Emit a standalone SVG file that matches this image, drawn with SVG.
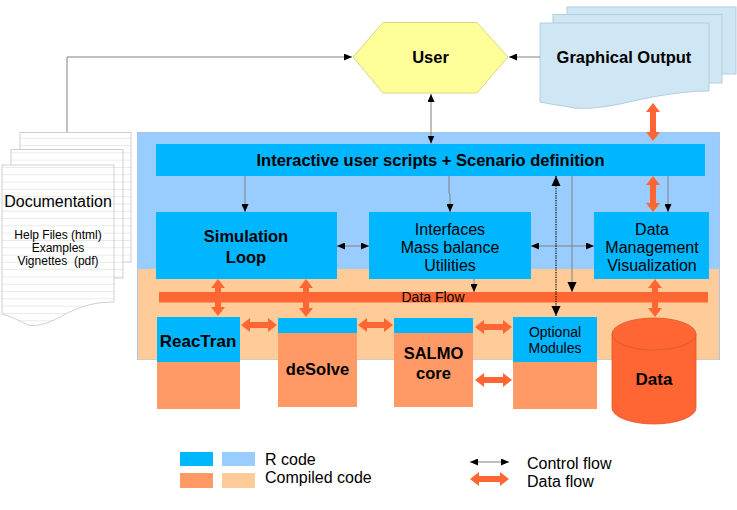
<svg xmlns="http://www.w3.org/2000/svg" width="737" height="510" viewBox="0 0 737 510">
<defs>
<pattern id="ruled" patternUnits="userSpaceOnUse" x="0" y="0" width="200" height="7.3">
<rect width="200" height="7.3" fill="#ffffff"/>
<line x1="0" y1="6.8" x2="200" y2="6.8" stroke="#e2e2e2" stroke-width="0.8"/>
</pattern>
<marker id="ah" viewBox="0 0 8 7" refX="8" refY="3.5" markerWidth="8" markerHeight="7" markerUnits="userSpaceOnUse" orient="auto-start-reverse">
<path d="M0,0 L8,3.5 L0,7 z" fill="#000"/>
</marker>
<marker id="ahb" viewBox="0 0 10 9" refX="10" refY="4.5" markerWidth="10" markerHeight="10" markerUnits="userSpaceOnUse" orient="auto-start-reverse">
<path d="M0,0 L10,4.5 L0,9 z" fill="#000"/>
</marker>
</defs>
<style>
text{font-family:"Liberation Sans",Arial,sans-serif;fill:#000}
.b{font-weight:bold;font-size:16.5px}
.r16{font-size:16px}
.r14{font-size:14px}
.r12{font-size:12px}
.rb{fill:#00b6ff}
.lb{fill:#99ccff}
.co{fill:#ff9966}
.pe{fill:#ffcc99}
.df{fill:#ff6633}
.page{fill:url(#ruled);stroke:#c4c4c4;stroke-width:0.8}
.ctl{stroke:#808080;stroke-width:1;fill:none}
</style>
<rect width="737" height="510" fill="#ffffff"/>

<!-- background regions -->
<g id="r-region">
<rect x="137.5" y="132.5" width="582" height="227" fill="#99ccff" stroke="#a9c4e4" stroke-width="1"/>
<rect x="138" y="269" width="581" height="90.5" fill="#ffcc99"/>
</g>

<!-- Documentation -->
<g id="documentation">
<rect class="page" x="20" y="132.5" width="111" height="129.5"/>
<rect class="page" x="11" y="149.5" width="112" height="128.5"/>
<path class="page" d="M2,165 H114 V302 C95,302 80,306 62,316 C48,324 35,327 28,325 C18,320 10,316 2,314 Z"/>
<text class="r16" x="58" y="206.5" text-anchor="middle">Documentation</text>
<text class="r12" x="58" y="238.5" text-anchor="middle">Help Files (html)</text>
<text class="r12" x="58" y="251.5" text-anchor="middle">Examples</text>
<text class="r12" x="58" y="264.5" text-anchor="middle" xml:space="preserve">Vignettes  (pdf)</text>
</g>

<!-- User -->
<g id="user">
<polygon points="353,57 383,22.5 477,22.5 508,57 477,93 383,93" fill="#ffff99" stroke="#d6d68a" stroke-width="1"/>
<text class="b" x="430.5" y="63" text-anchor="middle">User</text>
</g>

<!-- Graphical Output -->
<g id="graphical-output">
<rect x="567" y="7" width="169" height="67" fill="#cfe6f4" stroke="#b4cde0" stroke-width="1"/>
<rect x="553" y="14.5" width="169" height="68.5" fill="#cfe6f4" stroke="#b4cde0" stroke-width="1"/>
<path d="M540,23 H709 V91 C680,91 650,97 620,104 C600,108 585,109 575,108 C563,106 550,104 540,102 Z" fill="#cfe6f4" stroke="#b4cde0" stroke-width="1"/>
<text class="b" x="624" y="63" text-anchor="middle">Graphical Output</text>
</g>

<!-- Interactive bar -->
<g id="interactive">
<rect class="rb" x="156" y="144" width="549" height="32"/>
<text class="b" x="430.5" y="166" text-anchor="middle">Interactive user scripts + Scenario definition</text>
</g>

<g id="simulation-loop">
<rect class="rb" x="156" y="212" width="181" height="67"/>
<text class="b" x="246" y="242" text-anchor="middle">Simulation</text>
<text class="b" x="246" y="263" text-anchor="middle">Loop</text>
</g>

<g id="interfaces">
<rect class="rb" x="369" y="212" width="162" height="67"/>
<text class="r16" x="450" y="235" text-anchor="middle">Interfaces</text>
<text class="r16" x="450" y="253" text-anchor="middle">Mass balance</text>
<text class="r16" x="450" y="271" text-anchor="middle">Utilities</text>
</g>

<g id="data-management">
<rect class="rb" x="594" y="212" width="115" height="67"/>
<text class="r16" x="652" y="235" text-anchor="middle">Data</text>
<text class="r16" x="652" y="253" text-anchor="middle">Management</text>
<text class="r16" x="652" y="271" text-anchor="middle">Visualization</text>
</g>

<!-- Data flow bar -->
<g id="data-flow-bar">
<rect class="df" x="159" y="292" width="549" height="10.5"/>
<text class="r14" x="433" y="302" text-anchor="middle">Data Flow</text>
</g>

<!-- Modules -->
<g id="reactran">
<rect class="rb" x="157" y="317" width="83" height="45"/>
<rect class="co" x="157" y="362" width="83" height="47"/>
<text class="b" x="198" y="347" text-anchor="middle" style="font-size:17px">ReacTran</text>
</g>
<g id="desolve">
<rect class="rb" x="278" y="318" width="79" height="15"/>
<rect class="co" x="278" y="333" width="79" height="74"/>
<text class="b" x="317.5" y="375" text-anchor="middle">deSolve</text>
</g>
<g id="salmo">
<rect class="rb" x="394" y="318" width="79" height="15"/>
<rect class="co" x="394" y="333" width="79" height="74"/>
<text class="b" x="433.5" y="359" text-anchor="middle">SALMO</text>
<text class="b" x="433.5" y="379" text-anchor="middle">core</text>
</g>
<g id="optional-modules">
<rect class="rb" x="513" y="317" width="84" height="45"/>
<rect class="co" x="513" y="362" width="84" height="47"/>
<text class="r14" x="555" y="337" text-anchor="middle">Optional</text>
<text class="r14" x="555" y="353" text-anchor="middle">Modules</text>
</g>
<g id="data">
<path d="M612,334 V408 A42,16 0 0 0 696,408 V334 Z" fill="#ff6633" stroke="#d9582c" stroke-width="0.8"/>
<ellipse cx="654" cy="334" rx="42" ry="16" fill="#ff6633" stroke="#d9582c" stroke-width="0.8"/>
<text class="b" x="654" y="385" text-anchor="middle" style="font-size:17px">Data</text>
</g>

<!-- Connectors -->
<g id="connectors">
<!-- control flow -->
<polyline class="ctl" points="67,132 67,57 352,57" marker-end="url(#ah)"/>
<line class="ctl" x1="540" y1="57" x2="509" y2="57" marker-end="url(#ah)"/>
<line class="ctl" x1="431" y1="94" x2="431" y2="143.5" marker-start="url(#ah)" marker-end="url(#ah)"/>
<line class="ctl" x1="245" y1="176" x2="245" y2="212" marker-end="url(#ah)"/>
<polyline class="ctl" points="449,176 449,193 450,194 450,212" marker-end="url(#ah)"/>
<line class="ctl" x1="668" y1="176" x2="668" y2="212" marker-end="url(#ah)"/>
<line class="ctl" x1="337" y1="246" x2="369" y2="246" marker-start="url(#ah)" marker-end="url(#ah)"/>
<line class="ctl" x1="531" y1="246" x2="594" y2="246" marker-start="url(#ah)" marker-end="url(#ah)"/>
<line class="ctl" x1="474" y1="279" x2="474" y2="292" marker-end="url(#ah)"/>
<line class="ctl" x1="572" y1="176" x2="572" y2="292" marker-end="url(#ahb)"/>
<line x1="556" y1="176" x2="556" y2="316" stroke="#000" stroke-width="1.2" stroke-dasharray="1.2,1.2" marker-start="url(#ahb)" marker-end="url(#ahb)"/>
<!-- data flow (thick orange double arrows) -->
<polygon class="df" points="653,103 660,112 656,112 656,132 660,132 653,141 646,132 650,132 650,112 646,112"/>
<polygon class="df" points="653,176 660,185 656,185 656,203 660,203 653,212 646,203 650,203 650,185 646,185"/>
<polygon class="df" points="655,279 662,288 658,288 658,308 662,308 655,317 648,308 652,308 652,288 648,288"/>
<polygon class="df" points="218,279 225,288 221,288 221,307 225,307 218,316 211,307 215,307 215,288 211,288"/>
<polygon class="df" points="306,279 313,288 309,288 309,308 313,308 306,317 299,308 303,308 303,288 299,288"/>
<polygon class="df" points="241,325 250,318 250,322 268,322 268,318 277,325 268,332 268,328 250,328 250,332"/>
<polygon class="df" points="358,325 367,318 367,322 384,322 384,318 393,325 384,332 384,328 367,328 367,332"/>
<polygon class="df" points="475,327 484,320 484,324 503,324 503,320 512,327 503,334 503,330 484,330 484,334"/>
<polygon class="df" points="475,380 484,373 484,377 503,377 503,373 512,380 503,387 503,383 484,383 484,387"/>
</g>

<!-- Legend -->
<g id="legend">
<rect class="rb" x="180" y="452" width="33" height="14"/>
<rect class="lb" x="222" y="452" width="33" height="14"/>
<rect class="co" x="180" y="473" width="33" height="15"/>
<rect class="pe" x="222" y="473" width="33" height="15"/>
<text class="r16" x="265" y="465">R code</text>
<text class="r16" x="265" y="483">Compiled code</text>
<line class="ctl" x1="470" y1="462" x2="509" y2="462" marker-start="url(#ah)" marker-end="url(#ah)"/>
<polygon class="df" points="470,479 479,472 479,476 500,476 500,472 509,479 500,486 500,482 479,482 479,486"/>
<text class="r16" x="527" y="469">Control flow</text>
<text class="r16" x="527" y="487">Data flow</text>
</g>
</svg>
